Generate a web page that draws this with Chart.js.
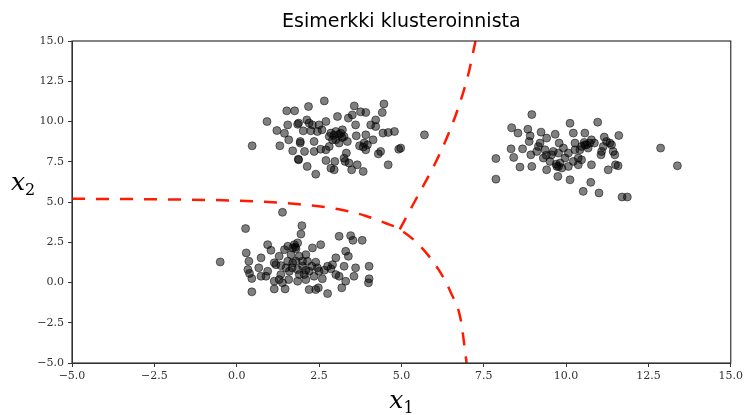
<!DOCTYPE html>
<html>
<head>
<meta charset="utf-8">
<script src="https://cdn.jsdelivr.net/npm/chart.js@4/dist/chart.umd.min.js"></script>
<style>
  html, body { margin: 0; padding: 0; background: #fff; }
  #wrap { width: 746px; height: 415px; position: relative; }
</style>
</head>
<body>
<div id="wrap"><canvas id="chart"></canvas></div>
<script>
// cluster points as [x1, x2]
var clusterA = [
  [0.47, 8.49], [0.92, 10.0], [1.22, 9.44], [1.31, 8.49], [1.45, 9.27], [1.52, 10.66],
  [1.76, 10.66], [1.55, 9.79], [1.58, 8.86], [1.70, 8.18], [1.85, 9.83], [1.93, 8.76],
  [1.87, 7.66], [2.14, 7.21], [2.40, 6.73], [2.18, 10.93], [2.13, 10.10], [2.02, 9.42],
  [2.25, 9.42], [2.30, 9.79], [2.50, 9.79], [2.71, 10.0], [2.66, 11.28], [2.59, 9.48],
  [2.35, 8.76], [2.06, 8.14], [2.35, 8.14], [2.71, 8.24], [2.81, 9.07], [2.91, 8.86],
  [2.71, 7.58], [2.98, 7.52], [2.86, 7.10], [2.96, 7.00], [3.06, 10.31], [3.01, 9.38],
  [3.16, 9.27], [3.26, 9.07], [3.21, 9.48], [3.11, 8.66], [3.36, 8.76], [3.33, 8.04],
  [3.29, 7.52], [3.41, 7.42], [3.49, 7.00], [3.39, 10.21], [3.51, 10.41], [3.57, 10.97],
  [3.76, 10.60], [3.92, 10.56], [3.61, 9.79], [3.63, 9.11], [3.66, 7.31], [3.84, 6.90],
  [3.87, 8.66], [3.92, 9.17], [3.84, 8.41], [3.97, 8.55], [4.07, 9.79], [4.14, 8.86],
  [4.22, 10.10], [4.22, 9.69], [4.30, 7.99], [4.37, 8.14], [4.44, 9.28], [4.42, 10.56],
  [4.47, 11.09], [4.60, 7.31], [4.60, 9.32], [4.79, 9.38], [4.92, 8.28], [4.98, 8.35],
  [5.70, 9.17], [1.88, 9.90], [3.01, 8.86], [2.81, 8.45], [1.88, 7.62], [1.93, 8.66],
  [2.55, 8.28], [2.86, 9.28], [3.73, 8.49], [3.26, 7.72], [3.92, 8.24], [2.45, 9.38],
  [2.20, 9.90], [3.10, 9.20], [3.20, 9.00], [2.95, 9.15]
];
var clusterB = [
  [8.96, 10.43], [8.35, 9.61], [8.54, 9.28], [8.84, 9.52], [8.91, 9.11], [8.88, 8.76],
  [7.87, 7.70], [7.87, 6.42], [8.33, 8.30], [8.41, 7.77], [8.60, 7.17], [8.68, 8.30],
  [8.96, 7.21], [8.93, 7.93], [9.24, 9.34], [9.21, 8.66], [9.11, 8.14], [9.31, 7.73],
  [9.36, 8.24], [9.41, 8.97], [9.41, 7.00], [9.51, 7.52], [9.67, 9.21], [9.79, 8.66],
  [9.77, 8.04], [9.82, 7.42], [9.77, 7.21], [9.75, 6.59], [9.92, 8.35], [9.97, 7.73],
  [10.12, 9.89], [10.22, 9.28], [10.12, 6.38], [10.07, 7.21], [10.27, 8.24], [10.22, 7.52],
  [10.37, 7.73], [10.42, 8.24], [10.52, 5.66], [10.57, 9.28], [10.62, 8.55], [10.57, 8.55],
  [10.67, 8.35], [10.77, 8.86], [10.77, 7.31], [10.75, 6.22], [10.86, 8.66], [10.96, 9.96],
  [11.00, 5.56], [11.08, 8.14], [11.06, 7.93], [11.16, 9.03], [11.23, 8.76], [11.28, 7.00],
  [11.33, 8.66], [11.43, 8.14], [11.48, 7.93], [11.50, 7.31], [11.58, 7.25], [11.60, 9.13],
  [11.70, 5.31], [11.86, 5.31], [12.87, 8.35], [13.38, 7.25], [10.27, 8.66], [10.47, 8.45],
  [9.61, 8.14], [10.07, 8.04], [9.56, 7.93], [9.87, 7.11], [9.72, 7.21], [10.37, 7.31],
  [10.72, 8.66], [9.16, 8.45], [10.47, 7.62], [11.38, 8.55], [11.13, 8.45], [9.40, 7.90],
  [10.55, 8.70], [9.70, 7.35]
];
var clusterC = [
  [-0.50, 1.28], [0.27, 3.35], [1.39, 4.36], [0.29, 1.84], [0.37, 1.32], [0.34, 0.80],
  [0.39, 0.56], [0.46, 0.25], [0.46, -0.58], [0.67, 0.91], [0.74, 1.53], [0.74, 0.39],
  [0.94, 2.35], [1.04, 2.00], [0.94, 0.70], [1.14, 1.22], [1.14, 0.08], [1.14, -0.40],
  [1.29, 1.63], [1.34, 0.49], [1.45, 2.04], [1.39, -0.02], [1.47, -0.40], [1.55, 2.25],
  [1.55, 1.32], [1.58, 0.18], [1.65, 1.73], [1.68, 0.91], [1.75, 2.35], [1.80, 1.32],
  [1.80, 2.09], [1.85, 2.46], [1.85, 0.80], [1.85, 0.08], [1.90, 1.63], [1.95, 3.01],
  [1.98, 3.53], [2.00, 1.01], [2.05, 0.49], [2.10, 1.73], [2.10, 0.18], [2.15, 1.32],
  [2.20, -0.44], [2.28, 1.01], [2.30, 2.15], [2.35, 0.39], [2.40, -0.44], [2.45, 0.91],
  [2.48, -0.33], [2.55, 2.35], [2.60, 0.23], [2.66, 0.76], [2.76, -0.69], [2.76, 1.01],
  [2.86, 0.85], [2.91, 1.11], [3.01, 1.53], [3.11, 2.87], [3.11, 0.39], [3.19, -0.33],
  [3.26, 1.01], [3.31, 1.94], [3.31, 0.08], [3.39, 1.63], [3.46, 2.91], [3.53, 2.62],
  [3.56, 0.39], [3.61, 0.91], [3.81, 2.62], [4.02, 1.01], [4.02, 0.23], [4.00, -0.02],
  [1.19, 1.11], [1.50, 0.91], [1.70, 1.22], [1.60, 0.70], [1.90, 0.49], [2.20, 0.70],
  [2.40, 1.26], [2.00, 1.32], [1.34, 1.05], [1.70, 2.15], [2.50, 0.70], [0.89, 0.39],
  [2.10, 0.76], [3.01, 0.49], [1.29, 0.18], [1.78, 2.20]
];

// decision boundaries (red dashed): one arc from left edge down to bottom, one branch up
var boundaryArc = [
  [-5.0, 5.20], [-2.5, 5.17], [0.0, 5.08], [1.9, 4.86], [3.1, 4.55], [3.9, 4.15],
  [4.5, 3.70], [4.95, 3.30], [5.55, 2.30], [6.13, 0.80], [6.50, -0.62], [6.80, -2.29],
  [6.98, -5.00]
];
var boundaryUpper = [
  [4.95, 3.30], [5.38, 4.94], [6.03, 7.42], [6.44, 9.28], [6.74, 10.93],
  [7.04, 13.00], [7.25, 15.00]
];

var xTicks = [-5, -2.5, 0, 2.5, 5, 7.5, 10, 12.5, 15];
var yTicks = [-5, -2.5, 0, 2.5, 5, 7.5, 10, 12.5, 15];

var titleText = 'Esimerkki klusteroinnista';
var serif = '"DejaVu Serif", "Liberation Serif", serif';

function toXY(arr) {
  return arr.map(function (p) { return { x: p[0], y: p[1] }; });
}

function pointSet(arr) {
  return {
    data: toXY(arr),
    backgroundColor: 'rgba(0, 0, 0, 0.5)',
    borderColor: 'rgba(0, 0, 0, 0.5)',
    borderWidth: 1,
    pointRadius: 4,
    showLine: false,
  };
}

function lineSet(arr) {
  return {
    data: toXY(arr),
    showLine: true,
    borderColor: '#ff1a00',
    borderWidth: 2.5,
    borderDash: [13, 11],
    pointRadius: 0,
    cubicInterpolationMode: 'monotone',
    fill: false,
  };
}

function fmtTick(v) {
  return v.toFixed(1).replace('-', '\u2212');
}

var frame = {
  id: 'frame',
  afterDraw: function (chart) {
    var ctx = chart.ctx, a = chart.chartArea;
    ctx.save();
    ctx.strokeStyle = '#333';
    ctx.lineWidth = 1.2;
    ctx.strokeRect(a.left, a.top, a.right - a.left, a.bottom - a.top);

    // title
    ctx.fillStyle = '#000';
    ctx.font = '19px "DejaVu Sans", sans-serif';
    ctx.textAlign = 'center';
    ctx.textBaseline = 'alphabetic';
    ctx.fillText(titleText, (a.left + a.right) / 2, 27);

    // x label
    var cx = (a.left + a.right) / 2;
    ctx.font = 'italic 25px ' + serif;
    ctx.textAlign = 'right';
    ctx.fillText('x', cx + 2, 408);
    ctx.font = '16px ' + serif;
    ctx.textAlign = 'left';
    ctx.fillText('1', cx + 2, 413);

    // y label (horizontal)
    ctx.font = 'italic 25px ' + serif;
    ctx.textAlign = 'left';
    ctx.fillText('x', 11, 190);
    ctx.font = '16px ' + serif;
    ctx.fillText('2', 25, 195);
    ctx.restore();
  }
};

var tickFont = { family: serif, size: 11 };

new Chart(document.getElementById('chart'), {
  type: 'scatter',
  data: {
    datasets: [
      pointSet(clusterA), pointSet(clusterB), pointSet(clusterC),
      lineSet(boundaryArc), lineSet(boundaryUpper)
    ]
  },
  options: {
    responsive: true,
    maintainAspectRatio: false,
    animation: false,
    events: [],
    layout: { padding: { top: 41, right: 13, left: 0, bottom: 0 } },
    plugins: { legend: { display: false }, tooltip: { enabled: false }, title: { display: false } },
    scales: {
      x: {
        type: 'linear', min: -5, max: 15,
        afterBuildTicks: function (s) { s.ticks = xTicks.map(function (v) { return { value: v }; }); },
        afterFit: function (s) { s.height = 52; },
        ticks: { color: '#333', font: tickFont, padding: 3, callback: fmtTick, maxRotation: 0 },
        grid: { display: true, drawOnChartArea: false, drawTicks: true, tickLength: 4, color: '#333' },
        border: { display: true, color: '#333' }
      },
      y: {
        type: 'linear', min: -5, max: 15,
        afterBuildTicks: function (s) { s.ticks = yTicks.map(function (v) { return { value: v }; }); },
        afterFit: function (s) { s.width = 72; },
        ticks: { color: '#333', font: tickFont, padding: 4, callback: fmtTick },
        grid: { display: true, drawOnChartArea: false, drawTicks: true, tickLength: 4, color: '#333' },
        border: { display: true, color: '#333' }
      }
    }
  },
  plugins: [frame]
});
</script>
</body>
</html>
